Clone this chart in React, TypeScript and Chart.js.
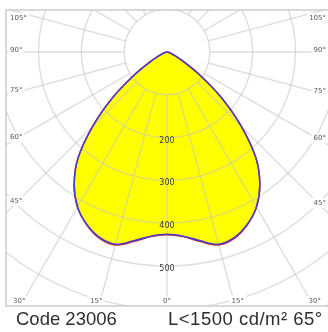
import React, { useEffect, useRef } from "react";
import { Chart, registerables } from "chart.js";

Chart.register(...registerables);

// Half-plane angles (degrees from nadir) and intensities (cd)
const halfAngles = [0, 5, 10, 15, 20, 25, 30, 35, 40, 45, 50, 55, 60, 65, 70, 75, 80, 85, 90];
const blueIntensity = [426, 432, 448, 465, 461, 444, 418, 378, 323, 245, 165, 92, 44, 21, 10, 5, 2, 1, 0];
const redIntensity = [427, 433, 450, 467, 463, 445, 418, 378, 323, 245, 165, 92, 44, 21, 10, 5, 2, 1, 0];

const ringValues = [100, 200, 300, 400, 500, 600, 700, 800, 900];
const ringLabels = [200, 300, 400, 500];
const spokeAngles = [0, 15, 30, 45, 60, 75, 90, 105, 120, 135, 150, 165, 180];
const sideAngleLabels = [105, 90, 75, 60, 45];
const bottomAngleLabels = [30, 15, 0];
const captionLeft = "Code 23006";
const captionRight = "L<1500 cd/m² 65°";

const X_MIN = -376;
const X_MAX = 376;
const Y_MIN = -593.5;
const Y_MAX = 98;

function toPoints(vals: number[]) {
  const pts: { x: number; y: number }[] = [];
  for (let i = halfAngles.length - 1; i >= 0; i--) {
    const a = (halfAngles[i] * Math.PI) / 180;
    pts.push({ x: -vals[i] * Math.sin(a), y: -vals[i] * Math.cos(a) });
  }
  for (let i = 1; i < halfAngles.length; i++) {
    const a = (halfAngles[i] * Math.PI) / 180;
    pts.push({ x: vals[i] * Math.sin(a), y: -vals[i] * Math.cos(a) });
  }
  return pts;
}

const polarGrid = {
  id: "polarGrid",
  afterDatasetDraw(chart: any, args: any) {
    if (args.index !== 0) return;
    const { ctx, chartArea } = chart;
    const xs = chart.scales.x;
    const ys = chart.scales.y;
    const cx = xs.getPixelForValue(0);
    const cy = ys.getPixelForValue(0);
    const rad = (v: number) => xs.getPixelForValue(v) - cx;
    ctx.save();
    ctx.beginPath();
    ctx.rect(chartArea.left, chartArea.top, chartArea.right - chartArea.left, chartArea.bottom - chartArea.top);
    ctx.clip();
    ctx.strokeStyle = "rgba(195,195,195,0.55)";
    ctx.lineWidth = 1.4;
    for (const v of ringValues) {
      ctx.beginPath();
      ctx.arc(cx, cy, rad(v), 0, Math.PI * 2);
      ctx.stroke();
    }
    const r0 = rad(ringValues[0]);
    const r1 = rad(1000);
    for (const a of spokeAngles) {
      for (const s of [-1, 1]) {
        if ((a === 0 || a === 180) && s === 1) continue;
        const t = (a * Math.PI) / 180;
        const dx = s * Math.sin(t);
        const dy = Math.cos(t);
        ctx.beginPath();
        ctx.moveTo(cx + dx * r0, cy + dy * r0);
        ctx.lineTo(cx + dx * r1, cy + dy * r1);
        ctx.stroke();
      }
    }
    // angle labels
    ctx.font = "7px 'DejaVu Sans'";
    ctx.textBaseline = "middle";
    const drawLabel = (txt: string, x: number, y: number, align: CanvasTextAlign) => {
      ctx.textAlign = align;
      const w = ctx.measureText(txt).width;
      let lx = x;
      if (align === "center") lx = x - w / 2;
      if (align === "right") lx = x - w;
      ctx.fillStyle = "#ffffff";
      ctx.fillRect(lx - 2, y - 5, w + 4, 10);
      ctx.fillStyle = "#5a5a5a";
      ctx.fillText(txt, x, y);
    };
    for (const a of sideAngleLabels) {
      const t = (a * Math.PI) / 180;
      const dxL = cx - (chartArea.left + 10);
      let yL = a === 90 ? cy : cy + (dxL * Math.cos(t)) / Math.sin(t);
      yL = Math.max(yL - 2, chartArea.top + 8);
      drawLabel(a + "°", chartArea.left + 4, yL, "left");
      const dxR = chartArea.right - 8 - cx;
      let yR = a === 90 ? cy : cy + (dxR * Math.cos(t)) / Math.sin(t);
      yR = Math.max(yR - 2, chartArea.top + 8);
      drawLabel(a + "°", chartArea.right - 2, yR, "right");
    }
    const yb = chartArea.bottom - 5;
    for (const a of bottomAngleLabels) {
      const t = (a * Math.PI) / 180;
      const off = (yb - cy) * Math.tan(t) + (a === 0 ? 0 : 4);
      drawLabel(a + "°", cx - off, yb, "center");
      if (a !== 0) drawLabel(a + "°", cx + off, yb, "center");
    }
    // ring labels
    ctx.font = "8px 'DejaVu Sans'";
    ctx.fillStyle = "#3a3a3a";
    ctx.textAlign = "center";
    for (const v of ringLabels) {
      ctx.fillText(String(v), cx, cy + rad(v) + 3);
    }
    ctx.restore();
  },
  afterDraw(chart: any) {
    const { ctx, chartArea } = chart;
    ctx.save();
    ctx.strokeStyle = "#cdcdcd";
    ctx.lineWidth = 1.5;
    ctx.strokeRect(chartArea.left, chartArea.top, chartArea.right - chartArea.left + 4, chartArea.bottom - chartArea.top);
    ctx.restore();
  },
};

export default function App() {
  const canvasRef = useRef<HTMLCanvasElement | null>(null);
  useEffect(() => {
    if (!canvasRef.current) return;
    const bluePts = toPoints(blueIntensity);
    const redPts = toPoints(redIntensity);
    const chart = new Chart(canvasRef.current, {
      type: "scatter",
      data: {
        datasets: [
          {
            label: "fill",
            data: bluePts,
            showLine: true,
            fill: "shape",
            backgroundColor: "#ffff00",
            borderWidth: 0,
            pointRadius: 0,
            tension: 0.35,
            order: 3,
          } as any,
          {
            label: "C90",
            data: redPts,
            showLine: true,
            fill: false,
            borderColor: "#e02828",
            borderWidth: 1.4,
            pointRadius: 0,
            tension: 0.35,
            order: 2,
          } as any,
          {
            label: "C0",
            data: bluePts,
            showLine: true,
            fill: false,
            borderColor: "#4a3ccc",
            borderWidth: 1.6,
            pointRadius: 0,
            tension: 0.35,
            order: 1,
          } as any,
        ],
      },
      options: {
        animation: false,
        responsive: false,
        events: [],
        layout: { padding: { left: 6, top: 10, right: 0, bottom: 26 } },
        scales: {
          x: { type: "linear", min: X_MIN, max: X_MAX, display: false },
          y: { type: "linear", min: Y_MIN, max: Y_MAX, display: false },
        },
        plugins: {
          legend: { display: false },
          tooltip: { enabled: false },
        },
      },
      plugins: [polarGrid],
    });
    return () => chart.destroy();
  }, []);

  const capStyle: React.CSSProperties = {
    position: "absolute",
    top: 309,
    fontFamily: "'Liberation Sans', Arial, sans-serif",
    fontSize: "18.5px",
    lineHeight: "19px",
    color: "#2e2e2e",
    whiteSpace: "nowrap",
  };

  return (
    <div style={{ position: "absolute", left: 0, top: 0, width: 328, height: 332, background: "#fff", overflow: "hidden" }}>
      <canvas ref={canvasRef} width={328} height={332} style={{ display: "block" }} />
      <div style={{ ...capStyle, left: 16 }}>{captionLeft}</div>
      <div style={{ ...capStyle, left: 168, letterSpacing: "0.5px" }}>{captionRight}</div>
    </div>
  );
}
